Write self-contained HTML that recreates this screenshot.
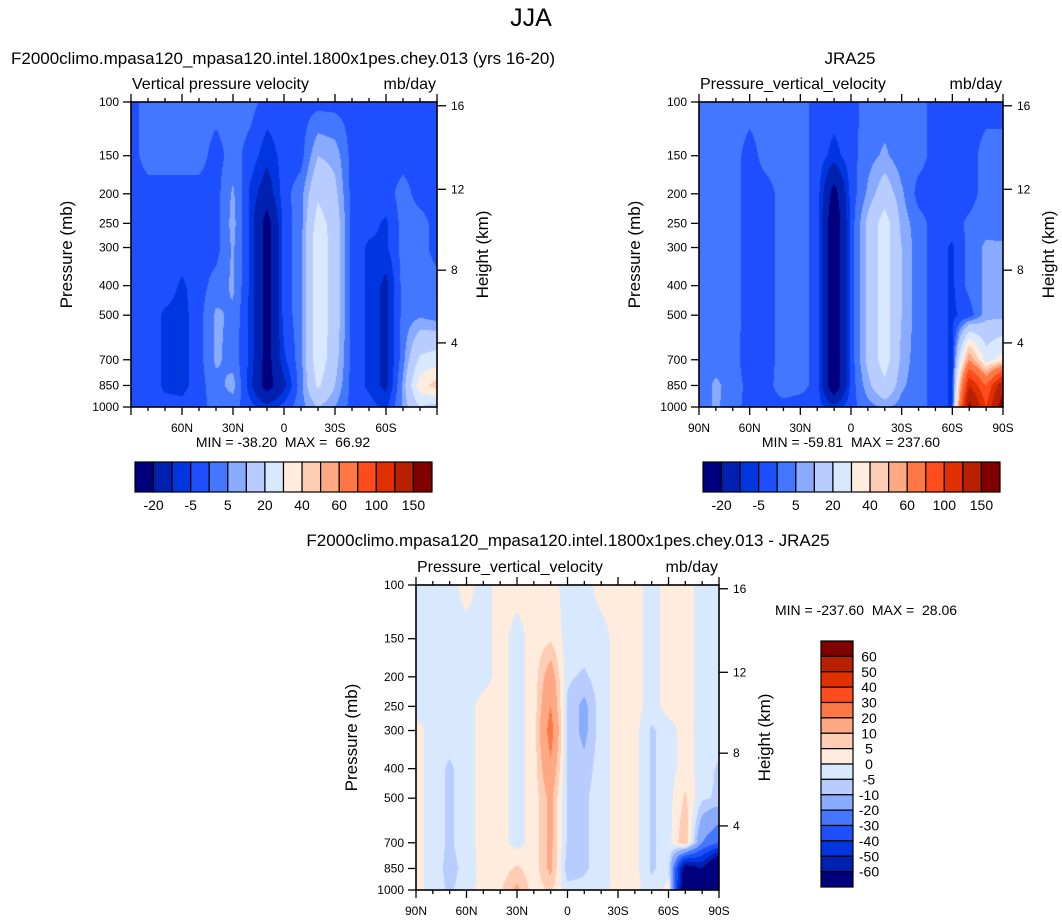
<!DOCTYPE html>
<html><head><meta charset="utf-8">
<style>
html,body{margin:0;padding:0;background:#fff;}
#wrap{position:relative;width:1062px;height:921px;overflow:hidden;font-family:"Liberation Sans",Arial,sans-serif;}
canvas{position:absolute;}
svg{position:absolute;left:0;top:0;}
text{font-family:"Liberation Sans",Arial,sans-serif;fill:#000;white-space:pre;}
</style></head>
<body>
<div id="wrap">
<canvas id="c0"></canvas>
<canvas id="c1"></canvas>
<canvas id="c2"></canvas>
<svg id="ov" width="1062" height="921"></svg>
</div>
<script>
// ---- data ----
const lats = [90,80,70,60,50,40,30,20,10,0,-10,-20,-30,-40,-50,-60,-70,-80,-90];
const plevs = [100,150,200,250,300,400,500,700,850,1000];
const modelVals = [
[-2,-2,-2,-2,-2,-2,-2,-2,-2,-2],
[2,2,-2,-2,-2,-2,-2,-2,-2,-2],
[2,2,-2,-2,-2,-2,-6,-6,-6,-3],
[2,2,-2,-2,-2,-6,-7,-7,-7,-3],
[2,2,-2,-2,-2,-2,-2,-2,-2,-2],
[2,-2,-2,-2,-2,2,6,6,3,2],
[2,2,6,7,6,6,4,3,7,2],
[2,-2,-6,-6,-6,-6,-6,-6,-8,-3],
[-2,-8,-15,-25,-25,-25,-25,-25,-25,-8],
[-2,-3,-2,-3,-3,-3,-3,-6,-12,-3],
[-2,-2,3,3,3,3,3,3,3,3],
[-2,10,18,25,28,28,28,27,22,10],
[-2,8,12,15,15,15,15,13,10,5],
[-2,-2,-2,-2,-2,-2,-2,-2,-2,-2],
[-2,-2,-2,-3,-6,-6,-6,-6,-6,-3],
[-2,-2,-2,-6,-6,-12,-12,-12,-12,-6],
[-2,-2,2,2,2,2,2,3,6,6],
[-2,-2,-2,2,2,2,4,22,35,20],
[-2,-2,-2,-2,-2,2,2,25,45,15]];
const jraVals = [
[2,2,2,2,2,2,2,2,2,2],
[2,2,2,2,2,2,2,3,6,6],
[2,2,2,2,2,2,2,2,3,2],
[2,-2,-2,-2,-2,-2,-2,-3,-2,-2],
[2,2,-2,-2,-2,-2,-2,-2,-2,-2],
[2,2,2,2,2,2,2,2,3,-2],
[2,2,2,2,2,2,2,2,2,-3],
[-2,-2,-2,-2,-2,-2,-2,-2,-2,-3],
[-2,-7,-25,-30,-30,-30,-30,-30,-30,-8],
[-2,-2,-3,-3,-3,-3,-3,-3,-3,-2],
[2,3,6,12,12,12,12,12,8,3],
[2,6,15,25,25,25,25,25,18,6],
[2,2,6,8,10,10,10,8,6,3],
[2,2,-2,2,2,2,2,2,2,2],
[-2,-2,-2,-2,-2,-2,-2,-2,-2,-2],
[-2,-2,-2,-2,-6,-6,-6,-6,-6,-6],
[-2,-2,-2,1,2,2,-3,60,120,160],
[-2,2,2,3,6,6,8,25,80,100],
[-2,2,2,2,6,6,8,35,140,170]];
const diffVals = [
[-2,-2,-2,-2,2,2,2,2,2,2],
[-2,-2,-2,-2,-2,-2,-2,-2,-2,-2],
[-2,-2,-2,-2,-2,-6,-6,-6,-7,-6],
[2,-2,-2,-2,-2,-2,-2,-2,-3,-2],
[-2,-2,-2,2,2,2,2,2,2,2],
[2,2,2,2,2,2,2,2,2,4],
[2,-2,-2,-2,-2,-2,-2,-2,6,12],
[2,2,2,2,2,2,2,2,2,2],
[2,4,15,20,25,18,12,12,12,6],
[-2,-2,-4,-6,-6,-6,-6,-6,-8,-3],
[-2,-2,-6,-12,-12,-8,-6,-6,-6,-3],
[2,-2,-2,-2,-2,-2,-2,-2,-2,-2],
[2,2,2,2,2,2,2,2,2,2],
[2,2,2,2,2,2,2,2,2,2],
[-2,-2,-2,-2,-6,-6,-6,-6,-6,-3],
[2,2,2,2,-2,-2,-2,-2,-2,2],
[2,2,2,2,2,2,6,10,-70,-80],
[-2,-2,-2,-2,-2,-2,-4,-20,-60,-70],
[-2,-2,-2,-2,-2,-6,-6,-30,-90,-90]];
const fieldLevels = [-20,-10,-5,0,5,10,20,30,40,50,60,80,100,120,150];
const fieldLabels = ["-20","-5","5","20","40","60","100","150"];
const diffLevels = [-60,-50,-40,-30,-20,-10,-5,0,5,10,20,30,40,50,60];
const diffLabels = ["60","50","40","30","20","10","5","0","-5","-10","-20","-30","-40","-50","-60"];
const palette = ["#00007f","#0020b0","#0036e0","#1e4fff","#4477ff","#88aaff","#b8ccff","#d8e8ff","#ffecdc","#ffccb4","#ffa884","#ff7744","#ff4c1c","#e03000","#b82000","#800000"];
const heightTicks = [4,8,12,16];
const latTicks = [90,60,30,0,-30,-60,-90];
const latLabels = ["90N","60N","30N","0","30S","60S","90S"];

// ---- rendering ----
const NS="http://www.w3.org/2000/svg";
const ov=document.getElementById('ov');
function T(x,y,s,size,anchor,extra){const t=document.createElementNS(NS,'text');t.setAttribute('x',x);t.setAttribute('y',y);t.setAttribute('font-size',size);t.setAttribute('text-anchor',anchor||'start');t.setAttribute('xml:space','preserve');if(extra)t.setAttribute('transform',extra);t.textContent=s;ov.appendChild(t);return t;}
function L(x1,y1,x2,y2,w){const l=document.createElementNS(NS,'line');l.setAttribute('x1',x1);l.setAttribute('y1',y1);l.setAttribute('x2',x2);l.setAttribute('y2',y2);l.setAttribute('stroke','#000');l.setAttribute('stroke-width',w||1);ov.appendChild(l);return l;}
function R(x,y,w,h,fill,sw){const r=document.createElementNS(NS,'rect');r.setAttribute('x',x);r.setAttribute('y',y);r.setAttribute('width',w);r.setAttribute('height',h);r.setAttribute('fill',fill);r.setAttribute('stroke','#000');r.setAttribute('stroke-width',sw||1);ov.appendChild(r);return r;}

function pOfZ(z){return z<=11?1013.25*Math.pow(1-6.5*z/288.15,5.256):226.32*Math.exp(-(z-11)/6.3416);}
function colorIdx(v,levels){let k=0;for(const l of levels){if(v>=l)k++;}return k;}
function sample(vals,lat,p){
  let fi=(90-lat)/10; let i=Math.min(Math.floor(fi),lats.length-2); let a=fi-i;
  const lp=Math.log10(p); let j=0;
  while(j<plevs.length-2 && Math.log10(plevs[j+1])<lp) j++;
  const l0=Math.log10(plevs[j]),l1=Math.log10(plevs[j+1]); let b=(lp-l0)/(l1-l0);
  b=Math.max(0,Math.min(1,b));
  const v00=vals[i][j],v01=vals[i][j+1],v10=vals[i+1][j],v11=vals[i+1][j+1];
  return (1-a)*((1-b)*v00+b*v01)+a*((1-b)*v10+b*v11);
}
function plot(cid,P,vals,levels,colors,opts){
  const c=document.getElementById(cid);
  c.width=P.w;c.height=P.h;c.style.left=P.x+'px';c.style.top=P.y+'px';
  const ctx=c.getContext('2d');
  const xs=lat=>P.x+(90-lat)/180*P.w;
  const ys=p=>P.y+Math.log10(p/100)*P.h;
  for(let px=0;px<P.w;px++){
    const lat=90-(px+0.5)/P.w*180;
    for(let py=0;py<P.h;py++){
      const p=100*Math.pow(10,(py+0.5)/P.h);
      ctx.fillStyle=colors[colorIdx(sample(vals,lat,p),levels)];
      ctx.fillRect(px,py,1,1);
    }
  }
  const fr=R(P.x,P.y,P.w,P.h,'none',1.6);
  
  
  for(const p of plevs){const y=ys(p);L(P.x-8,y,P.x,y,1.3);
    const t=T(P.x-12,y+4,String(p),12,'end');}
  for(const z of heightTicks){const y=ys(pOfZ(z));L(P.x+P.w,y,P.x+P.w+9,y,1.3);
    const t=T(P.x+P.w+14,y+4,String(z),12,'start');}
  for(let lat=90;lat>=-90;lat-=10){const x=xs(lat);const major=lat%30===0;const len=major?8:4;
    L(x,P.y-len,x,P.y,1.3);L(x,P.y+P.h,x,P.y+P.h+len,1.3);}
  latTicks.forEach((lat,k)=>{if(opts.noEnds&&(k===0||k===latTicks.length-1))return;
    const t=T(xs(lat),P.y+P.h+25,latLabels[k],12,'middle');});
  const yl=T(0,0,'Pressure (mb)',17,'middle','translate('+(P.x-59)+','+(P.y+P.h/2)+') rotate(-90)');
  
  const hl=T(0,0,'Height (km)',17,'middle','translate('+(P.x+P.w+51)+','+(P.y+P.h/2)+') rotate(-90)');
  
  const vl=T(P.x+1,P.y-13,opts.varName,16,'start');
  const ul=T(P.x+P.w-1,P.y-13,'mb/day',16,'end');
}
function hbar(x0,y0,w,h,name){
  const bw=w/palette.length;
  palette.forEach((c,k)=>{const r=R(x0+k*bw,y0,bw,h,c,1.2);
    });
  fieldLabels.forEach((s,k)=>{const t=T(x0+(2*k+1)*bw,y0+h+18,s,14,'middle');
    });
}
let t;
t=T(531,26,'JJA',25,'middle');
t=T(283,64,'F2000climo.mpasa120_mpasa120.intel.1800x1pes.chey.013 (yrs 16-20)',17,'middle');
t=T(850,64,'JRA25',17,'middle');
t=T(568,546,'F2000climo.mpasa120_mpasa120.intel.1800x1pes.chey.013 - JRA25',17,'middle');

plot('c0',{x:131,y:102,w:306,h:305},modelVals,fieldLevels,palette,{name:'model',varName:'Vertical pressure velocity',noEnds:true});
plot('c1',{x:699,y:102,w:304,h:305},jraVals,fieldLevels,palette,{name:'jra25',varName:'Pressure_vertical_velocity'});
plot('c2',{x:416,y:585,w:303,h:305},diffVals,diffLevels,palette,{name:'difference',varName:'Pressure_vertical_velocity'});

t=T(283,447,'MIN = -38.20  MAX =  66.92',14,'middle');
t=T(851,447,'MIN = -59.81  MAX = 237.60',14,'middle');
t=T(866,615,'MIN = -237.60  MAX =  28.06',14,'middle');

hbar(135,462,297,30,'model-colorbar');
hbar(703,462,297,30,'jra25-colorbar');
const vb={x:821,y:641,w:32,h:246};
const bh=vb.h/palette.length;
for(let k=0;k<palette.length;k++){
  const r=R(vb.x,vb.y+k*bh,vb.w,bh,palette[palette.length-1-k],1.2);
  
  
}
diffLabels.forEach((s,k)=>{const tt=T(869,vb.y+(k+1)*bh+5,s,14,'middle');
  
  });
</script>
</body></html>
